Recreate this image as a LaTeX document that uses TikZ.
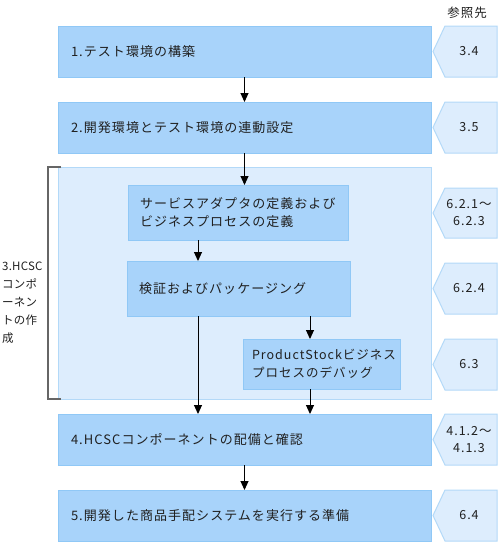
\documentclass[tikz,border=0pt]{standalone}
\usepackage{fontspec}
\setmainfont{Noto Sans CJK JP}[LetterSpace=8]
\newfontfamily\labfont{Noto Sans CJK JP}[LetterSpace=2]
\usetikzlibrary{arrows.meta}
\definecolor{mainfill}{HTML}{A8D3FA}
\definecolor{mainline}{HTML}{90C8F6}
\definecolor{grpfill}{HTML}{DDEDFD}
\definecolor{grpline}{HTML}{B3D9F8}
\definecolor{txt}{HTML}{202020}
\tikzset{
  mainbox/.style={draw=mainline, fill=mainfill, line width=1pt, anchor=north west, outer sep=0pt,
    inner xsep=13pt, align=left, text=txt, font=\fontsize{13}{18}\selectfont},
  grpbox/.style={draw=grpline, fill=grpfill, line width=1pt},
  tagshape/.style={draw=grpline, fill=grpfill, line width=1pt},
  tagtext/.style={align=center, text=txt, font=\fontsize{12.5}{17}\selectfont, inner sep=0pt},
  arr/.style={draw=black, line width=1pt, -{Triangle[length=9pt,width=8pt]}},
  bracketline/.style={draw=black!60, line width=1.6pt},
}
\begin{document}
\begin{tikzpicture}[x=1pt,y=-1pt]
\useasboundingbox (0,0) rectangle (499,544);
% group background
\draw[grpbox] (58,167) rectangle (431,399);
\draw[bracketline] (61,167) -- (48,167) -- (48,399) -- (61,399);
\node[anchor=north west, align=left, inner sep=0pt, text=txt, font=\labfont\fontsize{11.5}{18}\selectfont] (glabel) at (2,262) {3.HCSC\\コンポ\\ーネン\\トの作\\成};
% header
\node[tagtext] (hdr) at (467,13) {参照先};
% main boxes
\node[mainbox, minimum width=373pt, minimum height=51pt, text width=347pt] (b1) at (58,26) {1.テスト環境の構築};
\node[mainbox, minimum width=373pt, minimum height=51pt, text width=347pt] (b2) at (58,102) {2.開発環境とテスト環境の連動設定};
\node[mainbox, minimum width=220pt, minimum height=55pt, text width=196pt, inner xsep=12pt] (s1) at (128,185) {サービスアダプタの定義および\\ビジネスプロセスの定義};
\node[mainbox, minimum width=223pt, minimum height=55pt, text width=199pt, inner xsep=12pt] (s2) at (127,261) {検証およびパッケージング};
\node[mainbox, minimum width=157pt, minimum height=50pt, text width=139pt, inner xsep=9pt, font=\fontsize{12.5}{18}\selectfont] (s3) at (243,339) {ProductStockビジネス\\プロセスのデバッグ};
\node[mainbox, minimum width=373pt, minimum height=51pt, text width=347pt] (b4) at (58,414) {4.HCSCコンポーネントの配備と確認};
\node[mainbox, minimum width=373pt, minimum height=51pt, text width=347pt] (b5) at (58,490) {5.開発した商品手配システムを実行する準備};
% reference tags
\foreach \n/\t/\b/\lab in {t1/26/77/{3.4}, t2/102/153/{3.5}, t3/188/238/{6.2.1～\\6.2.3}, t4/263/314/{6.2.4}, t5/339/390/{6.3}, t6/414/465/{4.1.2～\\4.1.3}, t7/490/541/{6.4}}{
  \draw[tagshape] (433,{(\t+\b)/2}) -- (445,\t) -- (497,\t) -- (497,\b) -- (445,\b) -- cycle;
  \node[tagtext] (\n) at (469,{(\t+\b)/2}) {\lab};
}
% arrows
\coordinate (xa) at (198,0);
\coordinate (xb) at (310,0);
\draw[arr] (b1.south) -- (b2.north);
\draw[arr] (b2.south) -- (b2.south |- s1.north);
\draw[arr] (s1.south -| xa) -- (s2.north -| xa);
\draw[arr] (s2.south -| xa) -- (b4.north -| xa);
\draw[arr] (s2.south -| xb) -- (s3.north -| xb);
\draw[arr] (s3.south -| xb) -- (b4.north -| xb);
\draw[arr] (b4.south) -- (b5.north);
\end{tikzpicture}
\end{document}
